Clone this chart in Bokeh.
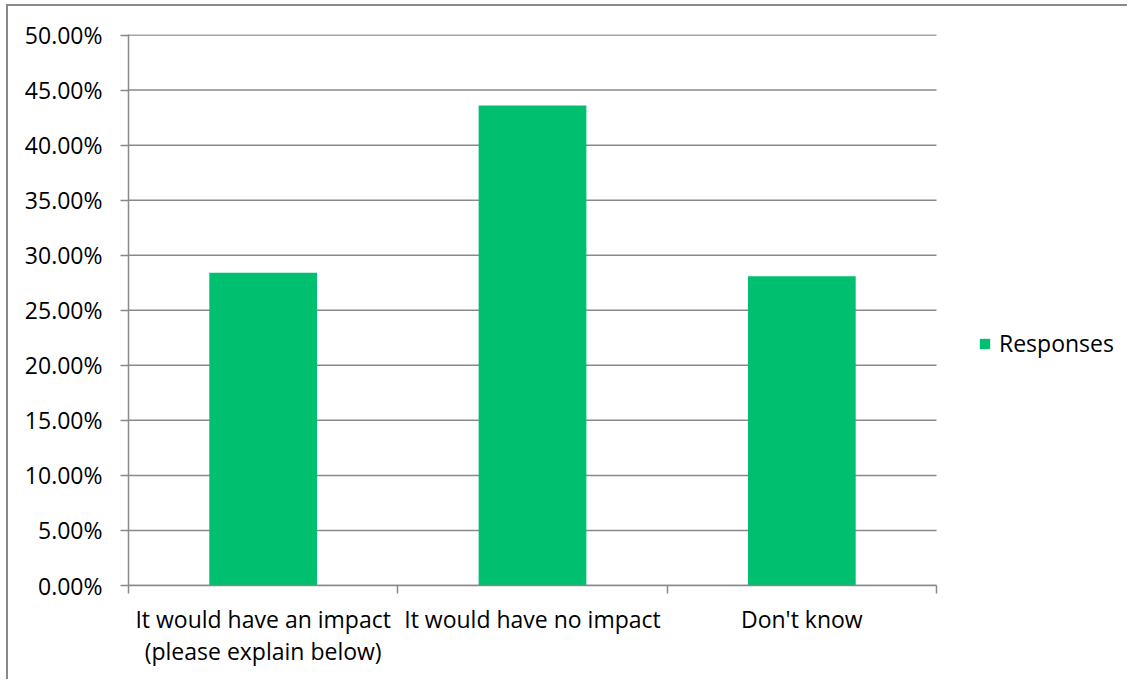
from bokeh.plotting import figure
from bokeh.models import (ColumnDataSource, Range1d, FixedTicker, NumeralTickFormatter,
                          Legend, LegendItem)
from bokeh.embed import file_html
from bokeh.resources import INLINE

categories = ["It would have an impact\n(please explain below)", "It would have no impact", "Don't know"]
responses = [0.284, 0.436, 0.281]
y_ticks = [0.0, 0.05, 0.10, 0.15, 0.20, 0.25, 0.30, 0.35, 0.40, 0.45, 0.50]
series_name = "Responses"

FONT = "Open Sans"
FS = "23px"
GRID = "#898989"
BAR = "#00BF6F"

# layout constants (pixels)
W, H = 1121, 675
ML, MT, MR, MB = 120, 28, 5, 96
PLOT_W = 808  # width of the category area in px
frame_w = W - ML - MR
n = len(categories)
x_end = n * frame_w / PLOT_W

xs = [i + 0.5 for i in range(n)]
src = ColumnDataSource(dict(x=xs, top=responses))
grid_src = ColumnDataSource(dict(y=y_ticks, x0=[0] * len(y_ticks), x1=[n] * len(y_ticks)))

p = figure(width=W, height=H, output_backend="svg", toolbar_location=None,
           x_range=Range1d(0, x_end), y_range=Range1d(0, 0.5005),
           min_border_left=ML, min_border_top=MT, min_border_right=MR, min_border_bottom=MB)
p.outline_line_color = None
p.styles = {"border-top": "2px solid #898989", "border-left": "2px solid #898989",
            "margin-left": "6px", "margin-top": "4px"}

# horizontal gridlines limited to the category area
p.segment(x0="x0", x1="x1", y0="y", y1="y", source=grid_src, line_color=GRID, line_width=1.5)
r = p.vbar(x="x", top="top", width=0.4, source=src, fill_color=BAR, line_color=None)

# x axis
xa = p.xaxis[0]
xa.bounds = (0, n)
xa.ticker = FixedTicker(ticks=xs, minor_ticks=list(range(n + 1)))
xa.major_label_overrides = {x: c for x, c in zip(xs, categories)}
xa.major_tick_out = 0
xa.major_tick_in = 0
xa.minor_tick_out = 8
xa.minor_tick_in = 0
xa.minor_tick_line_color = GRID
xa.minor_tick_line_width = 1.5
xa.axis_line_color = GRID
xa.axis_line_width = 1.5
xa.major_label_text_font = FONT
xa.major_label_text_font_size = FS
xa.major_label_text_color = "black"
xa.major_label_text_line_height = 1.0
xa.major_label_standoff = 9

# y axis
ya = p.yaxis[0]
ya.ticker = FixedTicker(ticks=y_ticks)
ya.formatter = NumeralTickFormatter(format="0.00%")
ya.major_tick_out = 8
ya.major_tick_in = 0
ya.minor_tick_line_color = None
ya.major_tick_line_color = GRID
ya.major_tick_line_width = 1.5
ya.axis_line_color = GRID
ya.axis_line_width = 1.5
ya.major_label_text_font = FONT
ya.major_label_text_font_size = FS
ya.major_label_text_color = "black"
ya.major_label_standoff = 18

p.xgrid.visible = False
p.ygrid.visible = False

legend = Legend(items=[LegendItem(label=series_name, renderers=[r])], location=(850, 226))
legend.glyph_width = 13
legend.glyph_height = 13
legend.label_standoff = 8
legend.label_text_font = FONT
legend.label_text_font_size = FS
legend.label_text_color = "black"
legend.border_line_color = None
legend.background_fill_alpha = 0
legend.padding = 0
legend.margin = 0
p.add_layout(legend, "center")

with open("out.html", "w") as f:
    f.write(file_html(p, INLINE))
